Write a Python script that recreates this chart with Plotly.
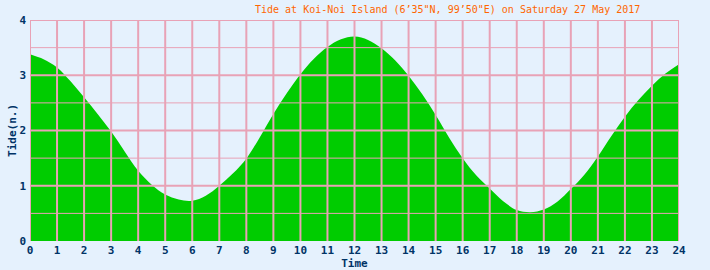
import plotly.graph_objects as go

hours = [0, 0.5, 1, 1.5, 2, 2.5, 3, 3.5, 4, 4.5, 5, 5.5, 6, 6.5, 7, 7.5, 8, 8.5,
         9, 9.5, 10, 10.5, 11, 11.5, 12, 12.5, 13, 13.5, 14, 14.5, 15, 15.5, 16,
         16.5, 17, 17.5, 18, 18.5, 19, 19.5, 20, 20.5, 21, 21.5, 22, 22.5, 23, 23.5, 24]
tide = [3.38, 3.29, 3.14, 2.89, 2.60, 2.30, 1.98, 1.62, 1.27, 1.02, 0.84, 0.75,
        0.73, 0.82, 1.00, 1.22, 1.49, 1.88, 2.30, 2.68, 3.02, 3.30, 3.51, 3.65,
        3.70, 3.64, 3.49, 3.27, 2.99, 2.66, 2.28, 1.87, 1.50, 1.19, 0.95, 0.72,
        0.56, 0.52, 0.57, 0.71, 0.94, 1.20, 1.53, 1.90, 2.25, 2.55, 2.81, 3.03, 3.20]

x_ticks = list(range(0, 25))
y_ticks = [0, 1, 2, 3, 4]
y_half = [0.5, 1.5, 2.5, 3.5]

title_text = "Tide at Koi-Noi Island (6\u201935\"N, 99\u201950\"E) on Saturday 27 May 2017"

BG = "#E5F1FD"
GRID = "#E8A2B6"
GREEN = "#00CC00"
NAVY = "#003366"

fig = go.Figure()
fig.add_trace(go.Scatter(x=hours, y=tide, mode="lines", line=dict(width=0, shape="spline", color=GREEN),
                         fill="tozeroy", fillcolor=GREEN, hoverinfo="skip", showlegend=False))

shapes = []
for h in x_ticks:
    shapes.append(dict(type="line", xref="x", yref="y", x0=h, x1=h, y0=0, y1=4,
                       line=dict(color=GRID, width=2), layer="above"))
for v in y_ticks[1:]:
    shapes.append(dict(type="line", xref="x", yref="y", x0=0, x1=24, y0=v, y1=v,
                       line=dict(color=GRID, width=2), layer="above"))
for v in y_half:
    shapes.append(dict(type="line", xref="x", yref="y", x0=0, x1=24, y0=v, y1=v,
                       line=dict(color=GRID, width=1), layer="above"))

fig.update_layout(
    width=710, height=270,
    margin=dict(l=30, r=31, t=20, b=29),
    paper_bgcolor=BG, plot_bgcolor=BG,
    shapes=shapes,
    showlegend=False,
    annotations=[dict(text=title_text, xref="paper", yref="paper", x=(642 - 30) / 649, y=1,
                      xanchor="right", yanchor="bottom", yshift=3, showarrow=False,
                      font=dict(family="DejaVu Sans Mono", size=10, color="#FF6600"))],
    xaxis=dict(range=[0, 24], tickvals=x_ticks, ticktext=[str(t) for t in x_ticks],
               showgrid=False, zeroline=False, ticks="", ticklabelstandoff=1, automargin=False,
               tickfont=dict(family="DejaVu Sans Mono", size=11, color=NAVY, weight="bold"),
               title=dict(text="Time", standoff=0,
                          font=dict(family="DejaVu Sans Mono", size=11, color=NAVY, weight="bold"))),
    yaxis=dict(range=[0, 4], tickvals=y_ticks, ticktext=[str(t) for t in y_ticks],
               showgrid=False, zeroline=False, ticks="", ticklabelstandoff=3, automargin=False,
               tickfont=dict(family="DejaVu Sans Mono", size=11, color=NAVY, weight="bold"),
               title=dict(text="Tide(n.)", standoff=0,
                          font=dict(family="DejaVu Sans Mono", size=11, color=NAVY, weight="bold"))),
)

fig.write_html("out.html")
